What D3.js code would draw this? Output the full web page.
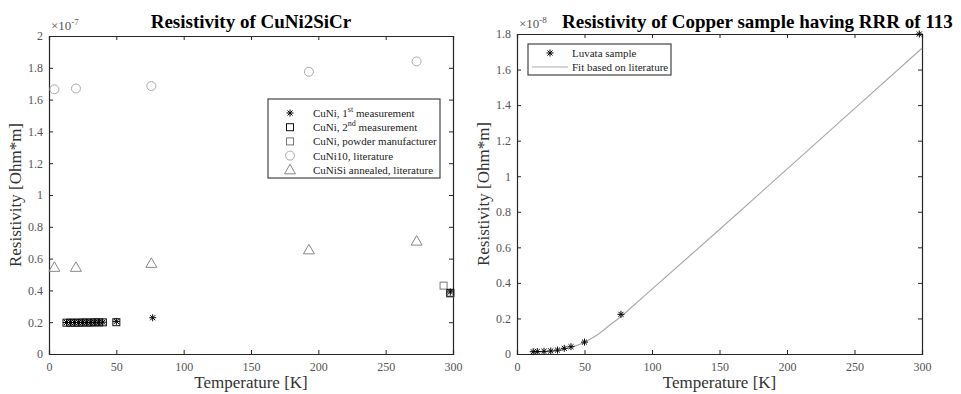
<!DOCTYPE html>
<html>
<head>
<meta charset="utf-8">
<script src="https://cdn.jsdelivr.net/npm/d3@7"></script>
<style>
body { margin: 0; background: #fff; }
text { font-family: "Liberation Serif", "Times New Roman", serif; }
.tick text { fill: #555; font-size: 12px; }
.tick line { stroke: #262626; }
.domain { stroke: #262626; }
</style>
</head>
<body>
<div id="chart"></div>
<script>
// left plot (values in units of 1e-7 Ohm*m)
var cuniTemps = [13, 16, 19, 22, 25, 28, 31, 34, 37, 40, 50, 77, 298];
var cuni1st = [0.198, 0.198, 0.198, 0.198, 0.199, 0.199, 0.199, 0.2, 0.2, 0.2, 0.205, 0.228, 0.39];
var cuni2ndTemps = [13, 16, 19, 22, 25, 28, 31, 34, 37, 40, 50, 298];
var cuni2nd = [0.197, 0.197, 0.197, 0.197, 0.198, 0.198, 0.198, 0.199, 0.199, 0.199, 0.2, 0.385];
var powderTemps = [293, 298];
var powder = [0.43, 0.38];
var litTemps = [4, 20, 76, 193, 273];
var cuni10 = [1.665, 1.67, 1.685, 1.775, 1.84];
var cunisi = [0.545, 0.545, 0.57, 0.655, 0.71];

// right plot (values in units of 1e-8 Ohm*m)
var luvataTemps = [12, 15, 20, 25, 30, 35, 40, 50, 77, 298];
var luvata = [0.013, 0.014, 0.015, 0.017, 0.022, 0.032, 0.041, 0.067, 0.223, 1.8];
var fitTemps = [12, 15, 20, 25, 30, 35, 40, 45, 50, 60, 70, 77, 100, 150, 200, 250, 300];
var fitVals = [0.009, 0.010, 0.012, 0.015, 0.02, 0.027, 0.037, 0.05, 0.065, 0.11, 0.17, 0.21, 0.365, 0.70, 1.04, 1.38, 1.72];

var leftTicksY = [0, 0.2, 0.4, 0.6, 0.8, 1, 1.2, 1.4, 1.6, 1.8, 2];
var rightTicksY = [0, 0.2, 0.4, 0.6, 0.8, 1, 1.2, 1.4, 1.6, 1.8];
var ticksX = [0, 50, 100, 150, 200, 250, 300];

var svg = d3.select("#chart").append("svg")
	.attr("width", 961)
	.attr("height", 394);

function asterisk(s) {
	var d = s * 0.72;
	return `M${-s},0L${s},0M0,${-s}L0,${s}M${-d},${-d}L${d},${d}M${-d},${d}L${d},${-d}`;
}

function fmt(d) {
	return String(+d.toFixed(1));
}

function drawAxes(box, yMax, yTicks, exponent) {
	var x = d3.scaleLinear().domain([0, 300]).range([box.x0, box.x1]);
	var y = d3.scaleLinear().domain([0, yMax]).range([box.y1, box.y0]);
	var g = svg.append("g");
	g.append("g").attr("transform", `translate(0,${box.y1})`)
		.call(d3.axisBottom(x).tickValues(ticksX).tickSize(-4).tickPadding(8).tickFormat(d => d));
	g.append("g").attr("transform", `translate(0,${box.y0})`)
		.call(d3.axisTop(x).tickValues(ticksX).tickSize(-4).tickFormat(""));
	g.append("g").attr("transform", `translate(${box.x0},0)`)
		.call(d3.axisLeft(y).tickValues(yTicks).tickSize(-4).tickPadding(6).tickFormat(fmt));
	g.append("g").attr("transform", `translate(${box.x1},0)`)
		.call(d3.axisRight(y).tickValues(yTicks).tickSize(-4).tickFormat(""));
	g.selectAll(".domain").attr("stroke-width", 1.2);
	// axis labels
	svg.append("text")
		.attr("x", (box.x0 + box.x1) / 2)
		.attr("y", 388)
		.attr("text-anchor", "middle")
		.attr("font-size", "17px")
		.attr("fill", "#333")
		.text("Temperature [K]");
	svg.append("text")
		.attr("transform", `translate(${box.ylab},${(box.y0 + box.y1) / 2}) rotate(-90)`)
		.attr("text-anchor", "middle")
		.attr("font-size", "17px")
		.attr("fill", "#333")
		.text("Resistivity [Ohm*m]");
	// exponent
	var ex = svg.append("text")
		.attr("x", box.x0 + 2)
		.attr("y", box.y0 - 6)
		.attr("font-size", "13px")
		.attr("fill", "#555");
	ex.append("tspan").text("\u00d710");
	ex.append("tspan").attr("dy", -5).attr("font-size", "9px").text(exponent);
	return { x: x, y: y };
}

// ---------- left plot ----------
var L = { x0: 49, x1: 453, y0: 36, y1: 354, ylab: 21 };
var ls = drawAxes(L, 2, leftTicksY, "-7");

svg.append("text")
	.attr("x", 251).attr("y", 28)
	.attr("text-anchor", "middle")
	.attr("font-size", "19px")
	.attr("font-weight", "bold")
	.text("Resistivity of CuNi2SiCr");

var pl = svg.append("g");
pl.selectAll(".lit10").data(litTemps).enter().append("circle")
	.attr("cx", d => ls.x(d))
	.attr("cy", (d, i) => ls.y(cuni10[i]))
	.attr("r", 4.5)
	.attr("fill", "none").attr("stroke", "#aaa").attr("stroke-width", 1);
pl.selectAll(".litsi").data(litTemps).enter().append("path")
	.attr("transform", (d, i) => `translate(${ls.x(d)},${ls.y(cunisi[i])})`)
	.attr("d", "M0,-5.5L5.5,4L-5.5,4Z")
	.attr("fill", "none").attr("stroke", "#888").attr("stroke-width", 1);
pl.selectAll(".powder").data(powderTemps).enter().append("rect")
	.attr("x", d => ls.x(d) - 3.5)
	.attr("y", (d, i) => ls.y(powder[i]) - 3.5)
	.attr("width", 7).attr("height", 7)
	.attr("fill", "none").attr("stroke", "#777").attr("stroke-width", 1);
pl.selectAll(".sq2").data(cuni2ndTemps).enter().append("rect")
	.attr("x", d => ls.x(d) - 3.5)
	.attr("y", (d, i) => ls.y(cuni2nd[i]) - 3.5)
	.attr("width", 7).attr("height", 7)
	.attr("fill", "none").attr("stroke", "#111").attr("stroke-width", 1);
pl.selectAll(".ast1").data(cuniTemps).enter().append("path")
	.attr("transform", (d, i) => `translate(${ls.x(d)},${ls.y(cuni1st[i])})`)
	.attr("d", asterisk(3.5))
	.attr("fill", "none").attr("stroke", "#000").attr("stroke-width", 1);

// left legend
var lg = svg.append("g").attr("transform", "translate(268,99)");
lg.append("rect").attr("width", 172).attr("height", 79)
	.attr("fill", "#fff").attr("stroke", "#444").attr("stroke-width", 1.2);
var entries = [
	{ type: "ast", color: "#000", parts: ["CuNi, 1", "st", " measurement"] },
	{ type: "sq", color: "#111", parts: ["CuNi, 2", "nd", " measurement"] },
	{ type: "sq", color: "#777", parts: ["CuNi, powder manufacturer"] },
	{ type: "circle", color: "#aaa", parts: ["CuNi10, literature"] },
	{ type: "tri", color: "#888", parts: ["CuNiSi annealed, literature"] }
];
entries.forEach(function (e, i) {
	var cy = 14 + i * 14.2;
	var m = lg.append("g").attr("transform", `translate(22,${cy})`);
	if (e.type === "ast") m.append("path").attr("d", asterisk(3.5));
	if (e.type === "sq") m.append("rect").attr("x", -3.5).attr("y", -3.5).attr("width", 7).attr("height", 7);
	if (e.type === "circle") m.append("circle").attr("r", 4.5);
	if (e.type === "tri") m.append("path").attr("d", "M0,-5.5L5.5,4L-5.5,4Z");
	m.selectAll("*").attr("fill", "none").attr("stroke", e.color).attr("stroke-width", 1);
	var t = lg.append("text").attr("x", 45).attr("y", cy + 4)
		.attr("font-size", "11px").attr("fill", "#222");
	t.append("tspan").text(e.parts[0]);
	if (e.parts.length > 1) {
		t.append("tspan").attr("dy", -5).attr("font-size", "8px").text(e.parts[1]);
		t.append("tspan").attr("dy", 5).text(e.parts[2]);
	}
});

// ---------- right plot ----------
var R = { x0: 517, x1: 922, y0: 34, y1: 354, ylab: 489 };
var rs = drawAxes(R, 1.8, rightTicksY, "-8");

svg.append("text")
	.attr("x", 562).attr("y", 28)
	.attr("font-size", "19px")
	.attr("font-weight", "bold")
	.text("Resistivity of Copper sample having RRR of 113");

var fitLine = d3.line()
	.x(d => rs.x(d[0]))
	.y(d => rs.y(d[1]));
svg.append("path")
	.datum(fitTemps.map((t, i) => [t, fitVals[i]]))
	.attr("d", fitLine)
	.attr("fill", "none").attr("stroke", "#aaa").attr("stroke-width", 1.2);

svg.append("g").selectAll("path").data(luvataTemps).enter().append("path")
	.attr("transform", (d, i) => `translate(${rs.x(d)},${rs.y(luvata[i])})`)
	.attr("d", asterisk(3.5))
	.attr("fill", "none").attr("stroke", "#000").attr("stroke-width", 1);

var rg = svg.append("g").attr("transform", "translate(528,44)");
rg.append("rect").attr("width", 143).attr("height", 31)
	.attr("fill", "#fff").attr("stroke", "#444").attr("stroke-width", 1.2);
rg.append("path").attr("transform", "translate(22,9)").attr("d", asterisk(3.5))
	.attr("fill", "none").attr("stroke", "#000").attr("stroke-width", 1);
rg.append("line").attr("x1", 4).attr("x2", 40).attr("y1", 23).attr("y2", 23)
	.attr("stroke", "#aaa").attr("stroke-width", 1.2);
rg.append("text").attr("x", 44).attr("y", 13).attr("font-size", "11px").attr("fill", "#222").text("Luvata sample");
rg.append("text").attr("x", 44).attr("y", 27).attr("font-size", "11px").attr("fill", "#222").text("Fit based on literature");
</script>
</body>
</html>
